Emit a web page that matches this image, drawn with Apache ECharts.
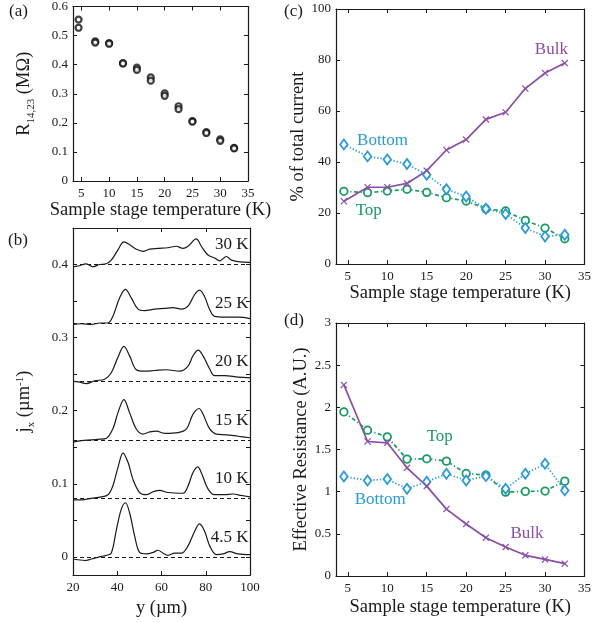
<!DOCTYPE html>
<html>
<head>
<meta charset="utf-8">
<script src="https://cdn.jsdelivr.net/npm/echarts@6/dist/echarts.min.js"></script>
<style>html,body{margin:0;padding:0;background:#fff}#c{width:594px;height:623px}</style>
</head>
<body>
<div id="c"></div>
<script>
// ---------- data ----------
const T = [4.5, 7.5, 10, 12.5, 15, 17.5, 20, 22.5, 25, 27.5, 30, 32.5];
// panel (a): two measurements per temperature (MOhm)
const R_run1 = [0.555, 0.480, 0.474, 0.405, 0.390, 0.356, 0.301, 0.257, 0.206, 0.168, 0.143, 0.114];
const R_run2 = [0.527, 0.476, 0.472, 0.404, 0.382, 0.345, 0.293, 0.247, 0.204, 0.165, 0.138, 0.112];
// panel (c): % of total current
const bulkPct   = [24.6, 30.1, 30.1, 31.6, 36.6, 44.7, 48.8, 56.7, 59.5, 68.8, 74.9, 78.8];
const bottomPct = [46.9, 42.2, 41.0, 39.2, 35.0, 29.3, 26.5, 21.7, 19.6, 14.1, 10.8, 11.5];
const topPct    = [28.5, 28.0, 28.6, 29.3, 28.1, 26.0, 24.7, 21.6, 20.8, 17.1, 14.1, 9.9];
// panel (d): effective resistance (A.U.)
const bulkRes   = [2.266, 1.595, 1.579, 1.283, 1.066, 0.793, 0.616, 0.454, 0.343, 0.245, 0.197, 0.146];
const topRes    = [1.946, 1.729, 1.650, 1.386, 1.390, 1.362, 1.216, 1.196, 0.995, 1.003, 1.007, 1.125];
const bottomRes = [1.180, 1.133, 1.149, 1.034, 1.117, 1.212, 1.133, 1.184, 1.034, 1.212, 1.330, 1.015];
// panel (b): current density profiles [y (um), jx (offset curve)]
const curve4_5K = [[20,-0.003],[22.3,-0.004],[25.3,-0.005],[28.3,-0.003],[32,0.000],[35,0.002],[37.3,0.005],[39.6,0.037],[41.8,0.065],[43.7,0.074],[45.6,0.060],[47.9,0.028],[50.1,0.006],[53.1,0.004],[56.2,0.006],[58.4,0.009],[60.7,0.005],[62.9,0.002],[65.9,0.005],[69,0.005],[72,0.015],[75,0.035],[77.2,0.045],[79.5,0.035],[81.8,0.015],[84.8,0.003],[87.8,0.004],[90.8,0.007],[94.6,0.004],[100,0.003]];
const curve10K = [[20,0.078],[23.8,0.078],[28.3,0.080],[32.8,0.082],[35.8,0.085],[38,0.097],[40.3,0.122],[42.6,0.142],[44.9,0.129],[47.1,0.106],[50.1,0.088],[53.1,0.085],[56.2,0.089],[59.2,0.091],[62.9,0.088],[69.7,0.087],[72,0.097],[74.2,0.115],[76.4,0.123],[78,0.115],[81,0.093],[84,0.085],[88.5,0.085],[92.3,0.086],[96.1,0.084],[100,0.082]];
const curve15K = [[20,0.157],[23.8,0.159],[28.3,0.160],[32,0.161],[35,0.162],[38,0.175],[40.3,0.197],[43,0.215],[45.6,0.197],[48.6,0.175],[51.6,0.168],[54.7,0.171],[57.7,0.172],[61.4,0.169],[67.5,0.170],[71.3,0.175],[74.2,0.195],[77,0.203],[78.8,0.195],[81.8,0.175],[84.8,0.168],[89.3,0.167],[94.6,0.165],[100,0.163]];
const curve20K = [[20,0.240],[23,0.239],[26,0.237],[29.8,0.241],[34.3,0.243],[37.3,0.252],[40.3,0.273],[43,0.288],[45.6,0.275],[48.6,0.256],[52.4,0.254],[56.9,0.255],[62.2,0.256],[68.2,0.254],[72,0.261],[74.2,0.275],[76.6,0.283],[78.8,0.275],[81.8,0.257],[84,0.248],[88.5,0.248],[94.6,0.246],[100,0.245]];
const curve25K = [[20,0.318],[23.8,0.319],[28.3,0.318],[32,0.320],[35.8,0.320],[38,0.329],[41,0.354],[43.7,0.366],[46.4,0.354],[49.4,0.339],[52.4,0.337],[56.9,0.339],[61.4,0.340],[65.2,0.341],[69,0.339],[72,0.343],[75,0.359],[77.2,0.365],[79.5,0.356],[81.8,0.338],[84,0.329],[88.5,0.328],[94.6,0.328],[100,0.326]];
const curve30K = [[20,0.397],[22.3,0.398],[26,0.401],[29,0.397],[32,0.400],[35,0.401],[37.3,0.406],[40.3,0.420],[43,0.431],[45.6,0.427],[48.6,0.421],[51.6,0.418],[54.7,0.421],[58.4,0.422],[62.9,0.423],[66.7,0.425],[69.7,0.422],[72,0.425],[75.7,0.435],[78,0.425],[81,0.413],[84,0.409],[86.3,0.405],[89.3,0.411],[91.6,0.406],[94.6,0.404],[100,0.403]];
const curves = [curve4_5K, curve10K, curve15K, curve20K, curve25K, curve30K];
const baselines = [0, 0.08, 0.16, 0.24, 0.32, 0.40];
const curveLabels = ['4.5 K', '10 K', '15 K', '20 K', '25 K', '30 K'];
// tick values
const tempTicks = [5, 10, 15, 20, 25, 30, 35];
const rTicks = [0, 0.1, 0.2, 0.3, 0.4, 0.5, 0.6];
const yumTicks = [20, 40, 60, 80, 100];
const jTicks = [0, 0.05, 0.1, 0.15, 0.2, 0.25, 0.3, 0.35, 0.4, 0.45];
const jLabels = [0, 0.1, 0.2, 0.3, 0.4];
const pctTicks = [0, 20, 40, 60, 80, 100];
const resTicks = [0, 0.5, 1, 1.5, 2, 2.5, 3];

// ---------- styles ----------
const FONT = 'Liberation Serif';
const INK = '#1a1a1a';
const PURPLE = '#8b4ea6';
const BLUE = '#2a9ad8';
const GREEN = '#1b9a64';
const XSYM = 'path://M0,1.2L1.2,0L5,3.8L8.8,0L10,1.2L6.2,5L10,8.8L8.8,10L5,6.2L1.2,10L0,8.8L3.8,5Z';

function axis(dir, grid, min, max, ticks, labels, opts) {
  const o = Object.assign({
    type: 'value', gridIndex: grid, min: min, max: max,
    axisLine: { show: true, onZero: false, lineStyle: { color: INK, width: 1.2 } },
    axisTick: { show: true, inside: true, length: 4, customValues: ticks, lineStyle: { color: INK, width: 1 } },
    axisLabel: labels ? { show: true, customValues: labels, fontFamily: FONT, fontSize: 13, color: INK, margin: dir === 'x' ? 6 : 5 } : { show: false },
    splitLine: { show: false },
    nameTextStyle: { fontFamily: FONT, fontSize: 18.5, color: INK }
  }, opts || {});
  return o;
}

const xAxis = [
  axis('x', 0, 3.5, 35, tempTicks, tempTicks, { position: 'bottom', name: 'Sample stage temperature (K)', nameLocation: 'middle', nameGap: 20 }),
  axis('x', 0, 3.5, 35, tempTicks, null, { position: 'top' }),
  axis('x', 1, 20, 100, yumTicks, yumTicks, { position: 'bottom', name: 'y (µm)', nameLocation: 'middle', nameGap: 20 }),
  axis('x', 1, 20, 100, yumTicks, null, { position: 'top' }),
  axis('x', 2, 3.5, 35, tempTicks, tempTicks, { position: 'bottom', name: 'Sample stage temperature (K)', nameLocation: 'middle', nameGap: 20 }),
  axis('x', 2, 3.5, 35, tempTicks, null, { position: 'top' }),
  axis('x', 3, 3.5, 35, tempTicks, tempTicks, { position: 'bottom', name: 'Sample stage temperature (K)', nameLocation: 'middle', nameGap: 22 }),
  axis('x', 3, 3.5, 35, tempTicks, null, { position: 'top' })
];

const yAxis = [
  axis('y', 0, 0, 0.6, rTicks, rTicks, {
    position: 'left', nameLocation: 'middle', nameRotate: 90, nameGap: 36,
    name: '{r|R}{s|14,23}{r| (MΩ)}',
    nameTextStyle: { fontFamily: FONT, color: INK, rich: {
      r: { fontFamily: FONT, fontSize: 18.5, color: INK, verticalAlign: 'bottom', lineHeight: 24, padding: [0, 0, 3, 0] },
      s: { fontFamily: FONT, fontSize: 11, color: INK, verticalAlign: 'bottom', lineHeight: 24 } } }
  }),
  axis('y', 0, 0, 0.6, rTicks, null, { position: 'right' }),
  axis('y', 1, -0.025, 0.45, jTicks, jLabels, {
    position: 'left', nameLocation: 'middle', nameRotate: 90, nameGap: 36,
    name: '{r|j}{s|x}{r| (µm}{p|-1}{r|)}',
    nameTextStyle: { fontFamily: FONT, color: INK, rich: {
      r: { fontFamily: FONT, fontSize: 18.5, color: INK, verticalAlign: 'bottom', lineHeight: 24, padding: [0, 0, 3, 0] },
      s: { fontFamily: FONT, fontSize: 11, color: INK, verticalAlign: 'bottom', lineHeight: 24 },
      p: { fontFamily: FONT, fontSize: 11, color: INK, verticalAlign: 'bottom', lineHeight: 24, padding: [0, 0, 11, 0] } } }
  }),
  axis('y', 1, -0.025, 0.45, jTicks, null, { position: 'right' }),
  axis('y', 2, 0, 100, pctTicks, pctTicks, { position: 'left', name: '% of total current', nameLocation: 'middle', nameRotate: 90, nameGap: 20 }),
  axis('y', 2, 0, 100, pctTicks, null, { position: 'right' }),
  axis('y', 3, 0, 3, resTicks, resTicks, { position: 'left', name: 'Effective Resistance (A.U.)', nameLocation: 'middle', nameRotate: 90, nameGap: 20 }),
  axis('y', 3, 0, 3, resTicks, null, { position: 'right' })
];

const grid = [
  { left: 73, top: 5, width: 175, height: 176 },
  { left: 73, top: 228, width: 177, height: 350 },
  { left: 336, top: 9, width: 253, height: 255 },
  { left: 336, top: 323, width: 253, height: 253 }
];

function pairs(xs, ys) { return xs.map((x, i) => [x, ys[i]]); }
function textMark(x, y, txt, color, pos) {
  return { coord: [x, y], symbol: 'circle', symbolSize: 0, itemStyle: { color: 'transparent' },
    label: { show: true, position: pos || 'inside', distance: 0, formatter: txt, fontFamily: FONT, fontSize: 17, color: color } };
}

const series = [];
// panel (a)
[R_run1, R_run2].forEach(r => series.push({
  type: 'scatter', xAxisIndex: 0, yAxisIndex: 0, data: pairs(T, r), symbol: 'circle', symbolSize: 6,
  itemStyle: { color: '#fff', borderColor: '#111', borderWidth: 2.2 }, silent: true
}));
// panel (b)
curves.forEach((c, i) => series.push({
  type: 'line', xAxisIndex: 2, yAxisIndex: 2, data: c, showSymbol: false, smooth: 0.35,
  lineStyle: { color: INK, width: 1.2 }, z: 3, silent: true,
  markLine: { silent: true, symbol: 'none', label: { show: false },
    lineStyle: { color: INK, width: 1, type: [4, 3] }, data: [{ yAxis: baselines[i] }] },
  markPoint: { silent: true, data: [textMark(99.3, baselines[i] + 0.027, curveLabels[i], INK, 'left')] }
}));
// panels (c) and (d)
function tri(xi, yi, bulk, bottom, top, labels) {
  series.push({ type: 'line', xAxisIndex: xi, yAxisIndex: yi, data: pairs(T, top), symbol: 'circle', symbolSize: 7.5,
    lineStyle: { color: GREEN, width: 1.7, type: [4, 2.5, 1.2, 2.5] }, itemStyle: { color: '#fff', borderColor: GREEN, borderWidth: 1.8 },
    markPoint: { silent: true, data: [textMark(labels.top[0], labels.top[1], 'Top', GREEN)] }, silent: true });
  series.push({ type: 'line', xAxisIndex: xi, yAxisIndex: yi, data: pairs(T, bottom), symbol: 'diamond', symbolSize: [7.5, 10],
    lineStyle: { color: BLUE, width: 1.7, type: [1.3, 2] }, itemStyle: { color: '#fff', borderColor: BLUE, borderWidth: 1.8 },
    markPoint: { silent: true, data: [textMark(labels.bottom[0], labels.bottom[1], 'Bottom', BLUE)] }, silent: true });
  series.push({ type: 'line', xAxisIndex: xi, yAxisIndex: yi, data: pairs(T, bulk), symbol: XSYM, symbolSize: 7,
    lineStyle: { color: PURPLE, width: 1.7 }, itemStyle: { color: PURPLE },
    markPoint: { silent: true, data: [textMark(labels.bulk[0], labels.bulk[1], 'Bulk', PURPLE)] }, silent: true });
}
tri(4, 4, bulkPct, bottomPct, topPct, { bulk: [30.8, 84.2], bottom: [9.4, 48.4], top: [7.65, 20.9] });
tri(6, 6, bulkRes, bottomRes, topRes, { bulk: [27.7, 0.50], bottom: [9.1, 0.91], top: [16.65, 1.65] });

const panelText = (t, l, tp) => ({ type: 'text', left: l, top: tp, style: { text: t, font: '17px "Liberation Serif"', fill: INK } });

const chart = echarts.init(document.getElementById('c'), null, { renderer: 'canvas' });
chart.setOption({
  animation: false,
  backgroundColor: '#fff',
  grid: grid, xAxis: xAxis, yAxis: yAxis, series: series,
  graphic: [panelText('(a)', 9, 3), panelText('(b)', 8, 232), panelText('(c)', 284, 3), panelText('(d)', 284, 312)]
});
</script>
</body>
</html>
